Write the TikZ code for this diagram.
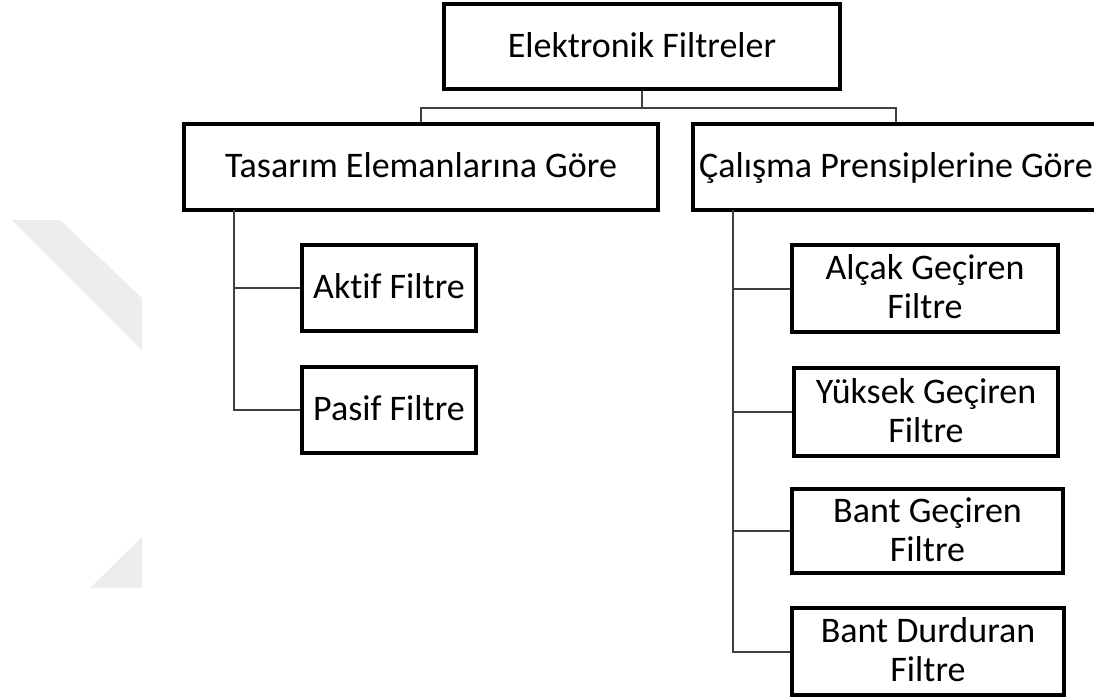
\documentclass[tikz,border=0pt]{standalone}
\usepackage{fontspec}
\setmainfont{Carlito}[Ligatures=NoCommon]
\usetikzlibrary{calc}

% invisible rule that gives every text line the same height and depth
\newcommand\linestrut{\rule[-6.5pt]{0pt}{29pt}}

\tikzset{
  box/.style={draw=black, line width=2.3pt, fill=white, rectangle,
              inner sep=0pt, align=center, anchor=center,
              font=\fontsize{27}{29.25}\selectfont},
  link/.style={draw=black!75, line width=1.5pt},
  mark logo/.style={fill=black!7, draw=none}
}

\begin{document}
\begin{tikzpicture}[x=0.75pt, y=-0.75pt]
  \useasboundingbox (0,0) rectangle (1094,697);
  \fill[white] (0,0) rectangle (1094,697);

  % faint logo shapes at the left margin
  \fill[mark logo] (12,220) -- (60,220) -- (142,298) -- (142,350) -- cycle;
  \fill[mark logo] (142,537) -- (142,588) -- (90,588) -- cycle;

  % boxes
  \node[box, minimum width=396*0.75pt, minimum height=85*0.75pt] (T) at (642,46.5) {\linestrut Elektronik Filtreler};
  \node[box, minimum width=474*0.75pt, minimum height=86*0.75pt] (L) at (421,167) {\linestrut Tasarım Elemanlarına Göre};
  \node[box, minimum width=406*0.75pt, minimum height=86*0.75pt] (R) at (896,167) {\linestrut Çalışma Prensiplerine Göre};

  \node[box, minimum width=174*0.75pt, minimum height=86*0.75pt] (A) at (389,288) {\linestrut Aktif Filtre};
  \node[box, minimum width=174*0.75pt, minimum height=86*0.75pt] (P) at (389,410) {\linestrut Pasif Filtre};

  \node[box, minimum width=266*0.75pt, minimum height=87*0.75pt] (AG) at (925,288.5) {\linestrut Alçak Geçiren\\\linestrut Filtre};
  \node[box, minimum width=264*0.75pt, minimum height=88*0.75pt] (YG) at (926,412) {\linestrut Yüksek Geçiren\\\linestrut Filtre};
  \node[box, minimum width=271*0.75pt, minimum height=84*0.75pt] (BG) at (927.5,531) {\linestrut Bant Geçiren\\\linestrut Filtre};
  \node[box, minimum width=272*0.75pt, minimum height=87*0.75pt] (BD) at (928,651.5) {\linestrut Bant Durduran\\\linestrut Filtre};

  % junction points of the tree
  \coordinate (bus) at (T.south |- 0,108);
  \coordinate (lt) at (234,210);
  \coordinate (rt) at (733,210);

  % connectors
  \draw[link] (T.south) -- (bus);
  \draw[link] (L.north) |- (bus) -| (R.north);
  \draw[link] (lt) |- (A.west);
  \draw[link] (lt) |- (P.west);
  \draw[link] (rt) |- (AG.west);
  \draw[link] (rt) |- (YG.west);
  \draw[link] (rt) |- (BG.west);
  \draw[link] (rt) |- (BD.west);
\end{tikzpicture}
\end{document}
